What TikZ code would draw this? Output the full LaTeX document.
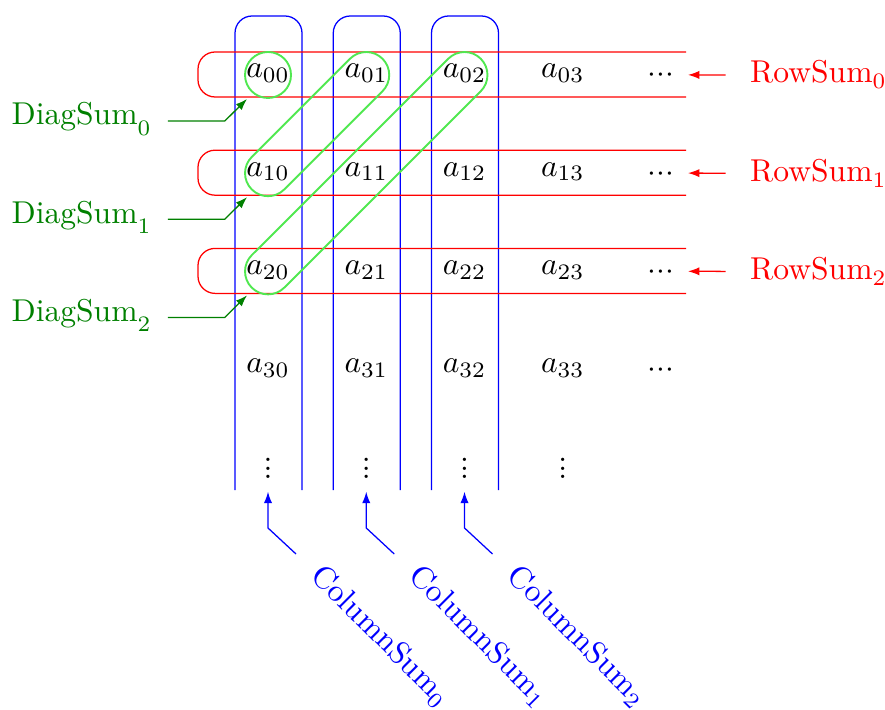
\documentclass[tikz,border=0pt]{standalone}
\usetikzlibrary{calc,arrows.meta}

\definecolor{loopgreen}{RGB}{80,232,80}
\definecolor{darkgreen}{RGB}{0,128,0}

% closely spaced dots for the continuation entries
\newcommand\tightvdots{\vbox{\baselineskip=2.7pt\lineskiplimit=-10pt\hbox{.}\hbox{.}\hbox{.}}}
\newcommand\tighthdots{\ensuremath{{\cdotp}{\cdotp}{\cdotp}}}
% label with a lowered index
\newcommand\sumlabel[3]{#1\raisebox{-#2}{\scriptsize #3}}

\begin{document}
\begin{tikzpicture}[x=0.3165pt, y=-0.3165pt,
  entry/.style={inner sep=0pt, anchor=base},
  rowbox/.style={red, rounded corners=5.4pt},
  colbox/.style={blue, rounded corners=5.4pt},
  loop/.style={loopgreen, line width=0.6pt, rounded corners=7.28pt},
  tip/.style={-{Latex[length=3.6pt,width=2.6pt]}},
  rowlabel/.style={red, inner sep=0pt, anchor=base west},
  diaglabel/.style={darkgreen, inner sep=0pt, anchor=base west},
  collabel/.style={blue, inner sep=0pt, anchor=base west, rotate=-45}]
\useasboundingbox (0,0) rectangle (885,710);

% matrix entries
\foreach \i in {0,...,3}{
  \foreach \j in {0,...,3}{
    \node[entry] (a\i\j) at ({268+98.25*\j},{78+98.2*\i}) {$a_{\i\j}$};
  }
  \node[entry] (h\i) at (661,{82.9+98.2*\i}) {\tighthdots};
}
\foreach \j in {0,...,3}
  \node[entry] (v\j) at ({268+98.25*\j},478.7) {\tightvdots};

% column groups, open at the bottom
\foreach \j in {0,1,2}
  \draw[colbox] ($(a0\j.base)+(-33,412)$) -- ($(a0\j.base)+(-33,-62)$)
    -- ($(a0\j.base)+(34,-62)$) -- ($(a0\j.base)+(34,412)$);

% row groups, open at the right
\foreach \i in {0,1,2}
  \draw[rowbox] ($(a\i0.base)+(418,-26)$) -- ($(a\i0.base)+(-70,-26)$)
    -- ($(a\i0.base)+(-70,19)$) -- ($(a\i0.base)+(418,19)$);

% anti-diagonal groups
\draw[loopgreen, line width=0.6pt] ($(a00.base)+(0,-3)$) circle[radius=23];
\foreach \k in {1,2}
  \draw[loop] ($(a0\k.base)+(16.25,-19.25)$) -- ($(a0\k.base)+(0,-35.5)$)
    -- ($(a\k0.base)+(-32.5,-3)$) -- ($(a\k0.base)+(0,29.5)$)
    -- ($(a0\k.base)+(32.5,-3)$) -- ($(a0\k.base)+(16.25,-19.25)$);

% row sums
\foreach \i in {0,1,2}{
  \node[rowlabel] (r\i) at (749.5,{83+98.2*\i}) {\sumlabel{RowSum}{1.9pt}{\i}};
  \draw[red, tip] ($(r\i.base west)+(-24,-8)$) -- ($(h\i.base)+(27,-8)$);
}

% diagonal sums
\foreach \i in {0,1,2}{
  \node[diaglabel] (d\i) at (11,{125+98.2*\i}) {\sumlabel{DiagSum}{3.2pt}{\i}};
  \draw[darkgreen, tip] ($(d\i.base east)+(17,-4)$) -- ++(57,0)
    -- ($(a\i0.base)+(-21,21)$);
}

% column sums
\foreach \j in {0,1,2}{
  \node[collabel] (s\j) at ({309+98.25*\j},577) {\sumlabel{ColumnSum}{1.8pt}{\j}};
  \draw[blue, tip] ($(s\j.base west)+(-13,-23)$) -- ++(-28,-26)
    -- ($(v\j.base)+(0,13)$);
}
\end{tikzpicture}
\end{document}
